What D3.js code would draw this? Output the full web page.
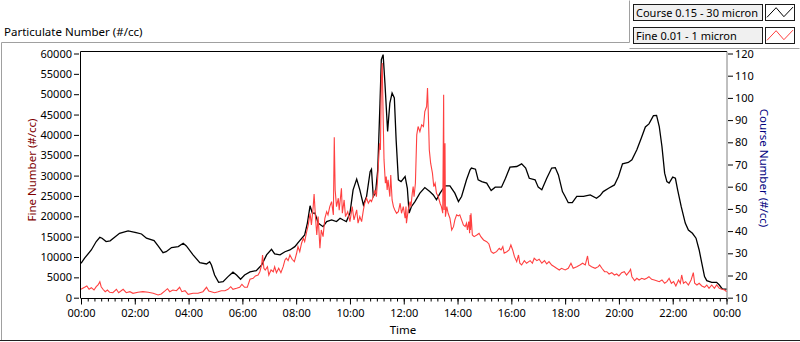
<!DOCTYPE html>
<html><head><meta charset="utf-8">
<script src="https://cdn.jsdelivr.net/npm/d3@7"></script>
<style>
html,body{margin:0;padding:0;background:#fff;}
svg{display:block;font-family:"Noto Sans",sans-serif;}
</style></head><body>
<svg id="chart" width="800" height="342"></svg>
<script>
const timeLabels = ["00:00","02:00","04:00","06:00","08:00","10:00","12:00","14:00","16:00","18:00","20:00","22:00","00:00"];
const fineTicks = [0,5000,10000,15000,20000,25000,30000,35000,40000,45000,50000,55000,60000];
const coarseTicks = [10,20,30,40,50,60,70,80,90,100,110,120];
const seriesNames = ["Course 0.15 - 30 micron","Fine 0.01 - 1 micron"];

const coarseMinutes = [0,8,23,34,42,47,56,65,75,86,105,123,135,146,163,172,183,190,202,217,228,235,250,265,280,287,291,298,307,317,328,339,347,356,365,377,391,403,414,425,432,444,455,466,477,488,499,505,511,516,522,529,540,548,559,570,578,585,592,600,607,615,622,630,637,645,648,652,657,662,667,670,674,678,684,689,694,699,703,708,714,723,728,732,737,745,756,767,778,786,793,801,812,823,834,842,849,860,868,871,880,886,894,905,915,924,938,947,957,972,983,992,1000,1013,1020,1028,1039,1050,1058,1065,1074,1080,1087,1096,1106,1121,1136,1150,1158,1165,1177,1190,1199,1208,1221,1229,1240,1250,1259,1267,1277,1284,1290,1296,1302,1307,1312,1320,1326,1331,1339,1348,1355,1364,1372,1379,1385,1391,1396,1407,1418,1424,1431,1440];
const coarseValues = [25.5,27.8,31.5,35.3,37.2,36.8,35.3,35.6,37.2,39.0,40.1,39.3,38.7,36.8,35.7,33.3,30.3,30.7,32.6,33.0,34.5,33.3,29.3,25.8,25.2,26.2,24.7,20.2,16.9,17.2,19.5,21.5,20.2,18.3,20.2,21.6,22.2,24.7,29.3,31.8,29.7,29.3,30.7,31.5,33.0,35.7,38.3,43.6,51.4,48.1,48.1,43.6,42.0,44.3,45.0,44.3,45.8,45.0,44.3,48.1,58.6,63.4,58.6,51.8,55.6,66.8,67.9,55.6,57.1,67.6,97.7,117.2,119.5,106.7,84.9,97.7,102.2,100,81.1,63.1,62.3,64.6,59.3,48.1,51.0,53.3,57.1,59.6,57.8,56.3,54.1,57.1,60.4,60.4,57.1,53.3,55.6,63.1,67.6,68.4,67.9,63.1,62.3,61.6,58.3,59.8,59.8,63.8,68.8,69.1,70.3,68.4,63.8,63.1,59.8,58.6,63.8,68.4,68.6,65.3,57.8,55.6,52.8,52.8,55.6,55.6,56.3,54.8,56.0,57.8,59.3,60.8,64.6,70.3,70.9,72.1,76.6,81.9,86.9,88.3,92.0,92.1,87.1,78.1,66.1,62.3,61.6,64.3,63.8,58.6,51.0,43.6,40.5,39.0,36.8,31.5,25.5,19.5,17.7,16.9,16.9,15.7,13.9,13.9];

const fineMinutes = [0,8,13,18,23,29,34,38,42,45,
49,54,59,64,71,79,84,94,101,109,
116,127,138,150,161,172,179,188,193,198,
205,213,220,225,232,239,250,261,272,280,
285,298,306,313,321,328,334,339,347,354,
359,365,371,377,384,389,395,399,403,405,
408,411,416,419,424,429,432,436,441,446,
451,455,458,462,466,471,476,481,484,488,
492,496,499,503,507,511,514,518,520,523,
526,529,533,536,540,544,548,551,555,559,
563,565,567,570,574,576,581,583,587,590,
595,600,605,609,615,618,622,626,630,633,
637,641,645,648,652,656,659,662,664,666,
668,670,672,674,676,679,681,683,685,689,
691,694,697,700,704,708,712,715,719,723,
725,726,730,734,736,739,741,743,746,749,
752,756,760,764,767,771,773,775,777,780,
784,787,790,793,797,801,804,807,809,810,
812,813,816,819,823,827,831,834,838,842,
845,849,853,857,860,862,865,867,868,869,
870,873,877,883,888,892,898,905,910,915,
920,927,933,937,941,944,950,955,959,963,
967,972,976,979,983,989,994,1002,1007,1011,
1017,1022,1028,1034,1039,1044,1050,1056,1061,1067,
1072,1080,1087,1093,1098,1106,1113,1119,1125,1130,
1133,1139,1147,1154,1157,1162,1168,1173,1178,1184,
1190,1195,1200,1206,1212,1217,1223,1226,1229,1235,
1240,1245,1251,1257,1262,1267,1273,1279,1284,1290,
1296,1302,1307,1312,1317,1322,1327,1333,1337,1340,
1344,1349,1355,1361,1366,1369,1374,1379,1385,1391,
1396,1401,1407,1413,1418,1424,1430,1436,1440];
const fineValues = [2100,2560,2880,2070,2460,1890,2700,3120,3940,2700,
2070,1480,1890,1330,1230,2070,1230,2070,1230,1480,
1080,1330,1480,1330,1080,660,910,1720,2210,1480,
1890,1720,2560,1480,1720,840,1080,1080,1480,2560,
1650,1230,1480,1720,1720,2070,2700,2070,2310,2560,
3300,2560,2560,4520,4770,5340,5580,6390,8040,10500,
7230,6810,7620,5580,6810,6390,7620,6150,7230,6150,
7620,9270,9690,9100,10500,9440,8850,10920,12540,11310,
13380,14610,13770,15980,17880,20750,17880,22380,25500,19920,
15420,19920,12150,16650,15000,19520,21150,20340,22380,23610,
20340,39440,26480,22380,24440,21500,26900,20750,24020,19920,
21150,18690,22380,19110,21570,18300,19920,18690,21570,23210,
24440,23210,24020,23610,24840,26480,24840,29750,33860,37970,
36320,53530,57640,44510,33860,28130,29750,26480,28940,24840,
30170,24020,22380,21570,20750,21150,23210,20750,22380,19520,
22380,18300,21570,23610,22380,25670,27290,24840,28130,40010,
42050,40820,42470,42050,45740,46970,51490,44510,36320,33050,
30590,27290,28130,25670,24840,23210,22380,20750,49840,21570,
37970,19920,22380,20750,19520,16650,17460,19110,20340,20090,
20340,19110,17880,17460,18300,16650,18690,15840,20340,16650,
20750,15420,15000,15420,15840,15000,14190,13770,13200,11310,
10920,11310,12150,11730,12540,10920,11310,11730,12960,11730,
10080,8850,10500,8460,8040,9100,8460,9100,8460,9690,
9100,9440,8460,9100,8290,8850,8040,7620,7230,6810,
7230,6810,7230,8460,7230,7620,8040,8460,8040,10250,
8040,7620,7230,7620,8040,7230,6390,6390,5830,6150,
5580,5830,5340,6150,6390,5580,6390,6980,5160,4180,
4770,4350,4770,4520,4770,5160,4520,4350,4180,3940,
4350,3540,3940,4770,3540,3940,2880,4350,3540,5580,
3540,3940,3120,4350,6150,3540,3120,3540,2880,2560,
3120,2310,3120,2310,3120,2310,2070,1890,1480];

const svg = d3.select("#chart");

// frame
svg.append("rect").attr("x",0).attr("y",0).attr("width",800).attr("height",342).attr("fill","#fff");
svg.append("path").attr("d","M1.5,340.5 V42.5 H629.5 V0.5").attr("fill","none").attr("stroke","#a0a0a0");
svg.append("path").attr("d","M629.5,48.5 H799.5").attr("fill","none").attr("stroke","#a0a0a0");
svg.append("path").attr("d","M0,340.5 H800").attr("fill","none").attr("stroke","#202020");

// title
svg.append("text").attr("x",4).attr("y",36).attr("font-size",11.5).attr("fill","#000").text("Particulate Number (#/cc)");

// scales
const x = d3.scaleLinear().domain([0,1440]).range([81,726.5]);
const yFine = d3.scaleLinear().domain([0,60000]).range([297.7,53.5]);
const yCoarse = d3.scaleLinear().domain([10,120]).range([297.7,53.5]);

// plot box
svg.append("path").attr("d","M80.5,298 V51.5 H727").attr("fill","none").attr("stroke","#000");
svg.append("path").attr("d","M727,51.5 V298").attr("fill","none").attr("stroke","#808080");

// axes
const leftAxis = svg.append("g").attr("transform","translate(79,0)")
  .call(d3.axisLeft(yFine).tickValues(fineTicks).tickSize(5).tickPadding(2).tickFormat(d3.format("d")));
const rightAxis = svg.append("g").attr("transform","translate(728,0)")
  .call(d3.axisRight(yCoarse).tickValues(coarseTicks).tickSize(5).tickPadding(2).tickFormat(d3.format("d")));
const minorTicks = d3.range(0,1441,15);
const majorTicks = d3.range(0,1441,120);
const bottomMinor = svg.append("g").attr("transform","translate(0,298.5)")
  .call(d3.axisBottom(x).tickValues(minorTicks).tickSize(3).tickFormat(""));
const bottomMajor = svg.append("g").attr("transform","translate(0,298.5)")
  .call(d3.axisBottom(x).tickValues(majorTicks).tickSize(6).tickPadding(5)
    .tickFormat((d,i)=>timeLabels[i]));
[leftAxis,rightAxis,bottomMajor].forEach(g=>{
  g.selectAll("text").attr("font-size",11).attr("font-family","Noto Sans").attr("fill","#000");
});
[leftAxis,rightAxis,bottomMinor,bottomMajor].forEach(g=>{
  g.select(".domain").remove();
  g.selectAll("line").attr("stroke","#000");
});
svg.append("path").attr("d","M80.5,298.5 H727").attr("stroke","#000").attr("fill","none");

// axis titles
svg.append("text").attr("transform","translate(36,170) rotate(-90)").attr("text-anchor","middle")
  .attr("font-size",11.5).attr("fill","#800000").text("Fine Number (#/cc)");
svg.append("text").attr("transform","translate(760,168) rotate(90)").attr("text-anchor","middle")
  .attr("font-size",11.5).attr("fill","#000080").text("Course Number (#/cc)");
svg.append("text").attr("x",403).attr("y",334).attr("text-anchor","middle")
  .attr("font-size",11.5).attr("fill","#000").text("Time");

// lines
svg.append("clipPath").attr("id","pc").append("rect")
  .attr("x",81).attr("y",52).attr("width",646).attr("height",246);
const coarseData = coarseMinutes.map((m,i)=>[m,coarseValues[i]]);
const fineData = fineMinutes.map((m,i)=>[m,fineValues[i]]);
svg.append("path").datum(coarseData).attr("clip-path","url(#pc)")
  .attr("d",d3.line().x(d=>x(d[0])).y(d=>yCoarse(d[1])))
  .attr("fill","none").attr("stroke","#000").attr("stroke-width",1.3);
svg.append("path").datum(fineData).attr("clip-path","url(#pc)")
  .attr("d",d3.line().x(d=>x(d[0])).y(d=>yFine(d[1])))
  .attr("fill","none").attr("stroke","#ff4040").attr("stroke-width",1.1);

// legend
const legendColors = ["#000","#ff4040"];
seriesNames.forEach((name,i)=>{
  const y0 = 4.5 + i*23;
  svg.append("rect").attr("x",633.5).attr("y",y0).attr("width",129).attr("height",16)
    .attr("fill","#f0f0f0").attr("stroke","#1a1a1a");
  svg.append("text").attr("x",636).attr("y",y0+12).attr("font-size",11).attr("fill","#000").text(name);
  svg.append("rect").attr("x",765.5).attr("y",y0).attr("width",29).attr("height",16)
    .attr("fill","#fff").attr("stroke","#1a1a1a");
  const sx = d3.scaleLinear().domain([0,1]).range([767,793]);
  const sy = d3.scaleLinear().domain([0,1]).range([y0+14,y0+2]);
  svg.append("path").datum([[0,0.1],[0.35,0.9],[0.65,0.15],[1,0.95]])
    .attr("d",d3.line().x(d=>sx(d[0])).y(d=>sy(d[1])))
    .attr("fill","none").attr("stroke",legendColors[i]).attr("stroke-width",1);
});
</script>
</body></html>
